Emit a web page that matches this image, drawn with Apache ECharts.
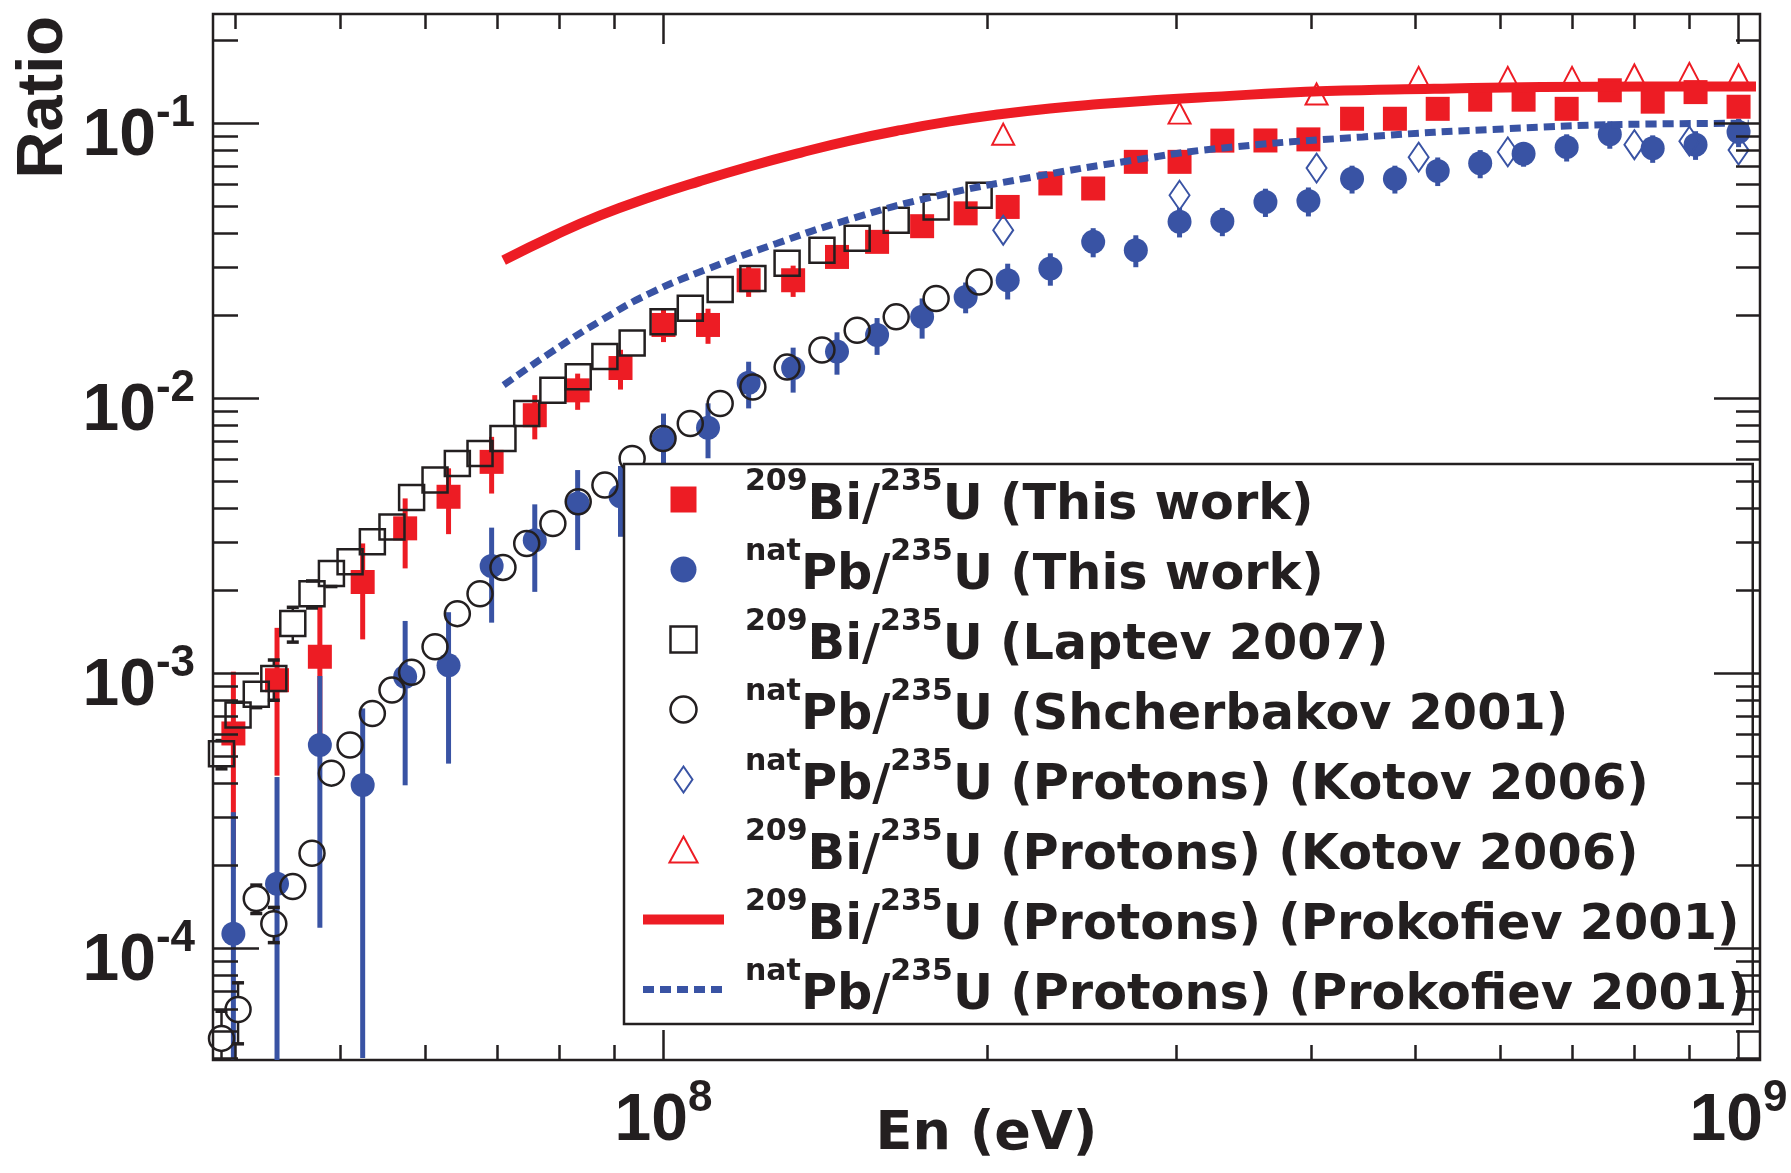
<!DOCTYPE html>
<html><head><meta charset="utf-8">
<script src="https://cdn.jsdelivr.net/npm/echarts@6/dist/echarts.min.js"></script>
<style>html,body{margin:0;padding:0;background:#fff}#c{width:1791px;height:1173px}</style>
</head><body><div id="c"></div>
<script>
// ---------------- data ----------------
const energyThisWork = [3.98e7, 4.37e7, 4.79e7, 5.25e7, 5.75e7, 6.31e7, 6.92e7, 7.59e7, 8.32e7, 9.12e7,
  1.00e8, 1.10e8, 1.20e8, 1.32e8, 1.45e8, 1.58e8, 1.74e8, 1.91e8, 2.09e8, 2.29e8,
  2.51e8, 2.75e8, 3.02e8, 3.31e8, 3.63e8, 3.98e8, 4.37e8, 4.79e8, 5.25e8, 5.75e8,
  6.31e8, 6.92e8, 7.59e8, 8.32e8, 9.12e8, 1.00e9];
const biThisWork = [6.05e-4, 9.45e-4, 1.15e-3, 2.15e-3, 3.37e-3, 4.39e-3, 5.88e-3, 8.69e-3, 1.07e-2, 1.29e-2,
  1.85e-2, 1.85e-2, 2.69e-2, 2.69e-2, 3.27e-2, 3.71e-2, 4.23e-2, 4.71e-2, 4.97e-2, 6.05e-2,
  5.80e-2, 7.25e-2, 7.25e-2, 8.66e-2, 8.67e-2, 8.75e-2, 0.104, 0.104, 0.113, 0.122,
  0.122, 0.113, 0.132, 0.120, 0.130, 0.115];
const biThisWorkErr = [4.1e-4, 5.2e-4, 6.0e-4, 8.2e-4, 9.6e-4, 1.18e-3, 1.37e-3, 1.59e-3, 1.61e-3, 2.13e-3,
  2.47e-3, 2.7e-3, 3.5e-3, 3.5e-3, 3.0e-3, 3.2e-3, 3.5e-3, 3.6e-3, 3.8e-3, 4.2e-3,
  4.2e-3, 4.8e-3, 4.8e-3, 5.2e-3, 5.2e-3, 5.3e-3, 5.8e-3, 5.8e-3, 6.2e-3, 6.5e-3,
  6.5e-3, 6.2e-3, 7.0e-3, 6.6e-3, 7.0e-3, 6.4e-3];
const pbThisWork = [1.13e-4, 1.72e-4, 5.49e-4, 3.93e-4, 9.72e-4, 1.07e-3, 2.46e-3, 3.05e-3, 4.15e-3, 4.41e-3,
  7.11e-3, 7.83e-3, 1.14e-2, 1.29e-2, 1.48e-2, 1.70e-2, 1.98e-2, 2.34e-2, 2.69e-2, 2.97e-2,
  3.71e-2, 3.46e-2, 4.39e-2, 4.41e-2, 5.18e-2, 5.22e-2, 6.29e-2, 6.29e-2, 6.72e-2, 7.16e-2,
  7.76e-2, 8.20e-2, 9.14e-2, 8.12e-2, 8.37e-2, 9.30e-2];
const pbThisWorkErr = [2.0e-4, 2.48e-4, 4.3e-4, 3.53e-4, 5.8e-4, 6.0e-4, 9.3e-4, 1.07e-3, 1.34e-3, 1.27e-3,
  1.7e-3, 1.77e-3, 2.2e-3, 2.4e-3, 2.6e-3, 2.6e-3, 3.3e-3, 3.0e-3, 4.0e-3, 4.0e-3,
  4.5e-3, 4.6e-3, 5.4e-3, 5.2e-3, 6.1e-3, 6.3e-3, 7.3e-3, 7.3e-3, 8.0e-3, 8.4e-3,
  8.0e-3, 9.3e-3, 1.05e-2, 9.3e-3, 1.0e-2, 1.1e-2];

const energyGatchina = [3.88e7, 4.02e7, 4.18e7, 4.34e7, 4.52e7, 4.71e7, 4.91e7, 5.11e7, 5.36e7, 5.59e7,
  5.83e7, 6.13e7, 6.43e7, 6.75e7, 7.09e7, 7.46e7, 7.89e7, 8.33e7, 8.82e7, 9.35e7,
  9.99e7, 1.059e8, 1.129e8, 1.211e8, 1.303e8, 1.404e8, 1.514e8, 1.646e8, 1.793e8, 1.966e8];
const biLaptev = [5.1e-4, 7.06e-4, 8.41e-4, 9.59e-4, 1.52e-3, 1.95e-3, 2.31e-3, 2.55e-3, 3.01e-3, 3.41e-3,
  4.36e-3, 5.05e-3, 5.80e-3, 6.31e-3, 7.15e-3, 8.82e-3, 1.07e-2, 1.20e-2, 1.42e-2, 1.59e-2,
  1.90e-2, 2.13e-2, 2.49e-2, 2.73e-2, 3.10e-2, 3.46e-2, 3.82e-2, 4.45e-2, 4.97e-2, 5.48e-2];
const biLaptevErr = [6e-5, 8e-5, 9e-5, 1.6e-4, 2.2e-4, 2.2e-4, 2.4e-4, 2.5e-4, 2.8e-4, 3.0e-4,
  3.5e-4, 4e-4, 4.5e-4, 4.8e-4, 5.3e-4, 6.3e-4, 7.5e-4, 8.4e-4, 9.8e-4, 1.1e-3,
  1.3e-3, 1.45e-3, 1.7e-3, 1.85e-3, 2.1e-3, 2.35e-3, 2.6e-3, 3.0e-3, 3.4e-3, 3.7e-3];
const pbShcherbakov = [4.71e-5, 6.0e-5, 1.52e-4, 1.23e-4, 1.68e-4, 2.22e-4, 4.34e-4, 5.49e-4, 7.15e-4, 8.70e-4,
  1.01e-3, 1.25e-3, 1.65e-3, 1.95e-3, 2.43e-3, 2.97e-3, 3.51e-3, 4.21e-3, 4.84e-3, 6.05e-3,
  7.15e-3, 8.11e-3, 9.59e-3, 1.10e-2, 1.30e-2, 1.50e-2, 1.77e-2, 1.98e-2, 2.31e-2, 2.65e-2];
const pbShcherbakovErr = [1.2e-5, 1.5e-5, 1.8e-5, 1.8e-5, 1.5e-5, 1.5e-5, 3e-5, 3.5e-5, 4e-5, 5e-5,
  6e-5, 7e-5, 9e-5, 1e-4, 1.2e-4, 1.5e-4, 1.8e-4, 2.1e-4, 2.4e-4, 3e-4,
  3.6e-4, 4e-4, 4.8e-4, 5.5e-4, 6.5e-4, 7.5e-4, 9e-4, 1e-3, 1.2e-3, 1.3e-3];

const energyKotovPb = [2.07e8, 3.02e8, 4.05e8, 5.04e8, 6.1e8, 8.0e8, 9.0e8, 1.0e9];
const pbKotov = [4.09e-2, 5.48e-2, 6.88e-2, 7.54e-2, 7.88e-2, 8.37e-2, 8.62e-2, 8.0e-2];
const energyKotovBi = [2.07e8, 3.02e8, 4.05e8, 5.04e8, 6.1e8, 7.0e8, 8.0e8, 9.0e8, 1.0e9];
const biKotov = [9.14e-2, 0.109, 0.128, 0.147, 0.147, 0.147, 0.150, 0.152, 0.150];

const energyProkBi = [7.10e7, 7.90e7, 8.73e7, 9.71e7, 1.081e8, 1.204e8, 1.34e8, 1.491e8, 1.66e8, 1.847e8,
  2.056e8, 2.288e8, 2.547e8, 2.835e8, 3.155e8, 4.14e8, 5.21e8, 6.55e8, 8.25e8, 1.038e9];
const biProkofiev = [0.0318, 0.0390, 0.0463, 0.0539, 0.0617, 0.0699, 0.0782, 0.0866, 0.0945, 0.1017,
  0.1080, 0.1134, 0.1176, 0.1212, 0.1243, 0.1311, 0.1337, 0.1357, 0.1361, 0.1361];
const energyProkPb = [7.10e7, 7.87e7, 8.76e7, 9.71e7, 1.097e8, 1.274e8, 1.481e8, 1.782e8, 2.208e8, 2.735e8,
  3.294e8, 4.47e8, 6.07e8, 8.25e8, 1.022e9];
const pbProkofiev = [1.118e-2, 1.477e-2, 1.927e-2, 2.41e-2, 2.95e-2, 3.66e-2, 4.45e-2, 5.41e-2, 6.39e-2, 7.35e-2,
  8.12e-2, 8.93e-2, 9.56e-2, 9.95e-2, 0.1001];

const seriesNames = [
  '209Bi/235U (This work)', 'natPb/235U (This work)', '209Bi/235U (Laptev 2007)',
  'natPb/235U (Shcherbakov 2001)', 'natPb/235U (Protons) (Kotov 2006)',
  '209Bi/235U (Protons) (Kotov 2006)', '209Bi/235U (Protons) (Prokofiev 2001)',
  'natPb/235U (Protons) (Prokofiev 2001)'];
const legendLabels = [
  '{p|209}{m|Bi/}{s|235}{m|U (This work)}',
  '{p|nat}{m|Pb/}{s|235}{m|U (This work)}',
  '{p|209}{m|Bi/}{s|235}{m|U (Laptev 2007)}',
  '{p|nat}{m|Pb/}{s|235}{m|U (Shcherbakov 2001)}',
  '{p|nat}{m|Pb/}{s|235}{m|U (Protons) (Kotov 2006)}',
  '{p|209}{m|Bi/}{s|235}{m|U (Protons) (Kotov 2006)}',
  '{p|209}{m|Bi/}{s|235}{m|U (Protons) (Prokofiev 2001)}',
  '{p|nat}{m|Pb/}{s|235}{m|U (Protons) (Prokofiev 2001)}'];

const xMajorTicks = [1e8, 1e9];
const xMinorTicks = [4e7, 5e7, 6e7, 7e7, 8e7, 9e7, 2e8, 3e8, 4e8, 5e8, 6e8, 7e8, 8e8, 9e8];
const yMajorTicks = [1e-4, 1e-3, 1e-2, 1e-1];
const yMinorTicks = [4e-5, 5e-5, 6e-5, 7e-5, 8e-5, 9e-5, 2e-4, 3e-4, 4e-4, 5e-4, 6e-4, 7e-4, 8e-4, 9e-4,
  2e-3, 3e-3, 4e-3, 5e-3, 6e-3, 7e-3, 8e-3, 9e-3, 2e-2, 3e-2, 4e-2, 5e-2, 6e-2, 7e-2, 8e-2, 9e-2, 2e-1];

// ---------------- styling ----------------
const INK = '#231f20', RED = '#ed1c24', BLUE = '#3953a4';
const TICK_FONT = '"Liberation Sans", Arial, sans-serif';
const LEG_FONT = '"DejaVu Sans", sans-serif';
const X_MIN = 3.81e7, X_MAX = 1.047e9, Y_MIN = 3.93e-5, Y_MAX = 0.25;
const RED_LINE = {color: RED, width: 10};
const BLUE_LINE = {color: BLUE, width: 7, type: [11, 6]};

const zip = (...cols) => cols[0].map((_, i) => cols.map(c => c[i]));

// all rich tokens top-aligned inside one line; padding-top sets each token's height on the line
const tickRich = {
  m: {fontFamily: TICK_FONT, fontWeight: 'bold', fontSize: 66, lineHeight: 92, padding: [26, 0, 0, 0], verticalAlign: 'top', color: INK},
  s: {fontFamily: TICK_FONT, fontWeight: 'bold', fontSize: 44, lineHeight: 92, padding: [14, 0, 0, 0], verticalAlign: 'top', color: INK}
};
const powLabel = v => '{m|10}{s|' + Math.round(Math.log10(v)) + '}';

function xAxisDef(pos, ticks, len, withLabels) {
  const ax = {
    type: 'log', logBase: 10, min: X_MIN, max: X_MAX, position: pos, z: 10,
    axisLine: {show: false}, splitLine: {show: false}, minorTick: {show: false},
    axisTick: {show: true, inside: true, length: len, customValues: ticks, lineStyle: {color: INK, width: 2.5}},
    axisLabel: {show: false}
  };
  if (withLabels) {
    ax.axisLabel = {show: true, customValues: ticks, margin: 3, verticalAlign: 'top', formatter: powLabel, rich: tickRich};
    ax.name = 'En (eV)';
    ax.nameLocation = 'middle';
    ax.nameGap = 48;
    ax.nameMoveOverlap = false;
    ax.nameTextStyle = {fontFamily: LEG_FONT, fontWeight: 'bold', fontSize: 54, color: INK};
  }
  return ax;
}
function yAxisDef(pos, ticks, len, withLabels) {
  const ax = {
    type: 'log', logBase: 10, min: Y_MIN, max: Y_MAX, position: pos, z: 10,
    axisLine: {show: false}, splitLine: {show: false}, minorTick: {show: false},
    axisTick: {show: true, inside: true, length: len, customValues: ticks, lineStyle: {color: INK, width: 2.5}},
    axisLabel: {show: false}
  };
  if (withLabels) {
    ax.axisLabel = {show: true, customValues: ticks, margin: 18, verticalAlign: 'middle', formatter: powLabel, rich: tickRich};
  }
  return ax;
}

function errorBars(color, width, halfMarker, cap) {
  return function (params, api) {
    const x = api.value(0), y = api.value(1), s = api.value(2);
    const c = api.coord([x, y]);
    const hi = api.coord([x, y + s]);
    const lo = api.coord([x, Math.max(y - s, 1e-12)]);
    const st = {stroke: color, lineWidth: width};
    const kids = [];
    if (c[1] - hi[1] > halfMarker) {
      kids.push({type: 'line', shape: {x1: c[0], y1: c[1] - halfMarker, x2: hi[0], y2: hi[1]}, style: st});
      if (cap) kids.push({type: 'line', shape: {x1: hi[0] - cap, y1: hi[1], x2: hi[0] + cap, y2: hi[1]}, style: {stroke: color, lineWidth: 3.5}});
    }
    if (lo[1] - c[1] > halfMarker) {
      kids.push({type: 'line', shape: {x1: c[0], y1: c[1] + halfMarker, x2: lo[0], y2: lo[1]}, style: st});
      if (cap) kids.push({type: 'line', shape: {x1: lo[0] - cap, y1: lo[1], x2: lo[0] + cap, y2: lo[1]}, style: {stroke: color, lineWidth: 3.5}});
    }
    return {type: 'group', children: kids};
  };
}
function errSeries(name, data, renderItem) {
  return {type: 'custom', name: name, data: data, renderItem: renderItem, clip: true, silent: true,
    dimensions: ['x', 'y', 'e'], encode: {x: 0, y: 1}};
}
const hollow = 'rgba(255,255,255,0)';
const clear = 'rgba(0,0,0,0)';

const chart = echarts.init(document.getElementById('c'), null, {renderer: 'canvas'});
chart.setOption({
  animation: false,
  backgroundColor: '#ffffff',
  grid: {left: 213, right: 31, top: 14, bottom: 113, containLabel: false, outerBoundsMode: 'none',
    show: true, borderColor: INK, borderWidth: 2.5, backgroundColor: 'transparent'},
  xAxis: [
    xAxisDef('bottom', xMajorTicks, 30, true),
    xAxisDef('bottom', xMinorTicks, 15, false),
    xAxisDef('top', xMajorTicks, 30, false),
    xAxisDef('top', xMinorTicks, 15, false)
  ],
  yAxis: [
    yAxisDef('left', yMajorTicks, 46, true),
    yAxisDef('left', yMinorTicks, 25, false),
    yAxisDef('right', yMajorTicks, 46, false),
    yAxisDef('right', yMinorTicks, 24, false)
  ],
  legend: {
    orient: 'vertical', left: 624, top: 464, itemWidth: 81, itemHeight: 26, itemGap: 0,
    padding: [0, 3, 0, 14], backgroundColor: '#ffffff', borderColor: INK, borderWidth: 2.5,
    selectedMode: false, z: 5, symbolKeepAspect: true,
    formatter: name => legendLabels[seriesNames.indexOf(name)],
    textStyle: {
      color: INK, fontFamily: LEG_FONT, fontWeight: 'bold', fontSize: 49.3,
      rich: {
        m: {fontFamily: LEG_FONT, fontWeight: 'bold', fontSize: 49.3, lineHeight: 71, padding: [18, 0, 3, 0], verticalAlign: 'top', color: INK},
        s: {fontFamily: LEG_FONT, fontWeight: 'bold', fontSize: 30, lineHeight: 71, padding: [3, 0, 0, 0], verticalAlign: 'top', color: INK},
        p: {fontFamily: LEG_FONT, fontWeight: 'bold', fontSize: 30, lineHeight: 71, padding: [3, 0, 0, 16], verticalAlign: 'top', color: INK}
      }
    },
    data: [
      {name: seriesNames[0], icon: 'path://M0,0H26V26H0Z', itemStyle: {color: RED, borderWidth: 0, opacity: 1}},
      {name: seriesNames[1], icon: 'circle', itemStyle: {color: BLUE, borderWidth: 0, opacity: 1}},
      {name: seriesNames[2], icon: 'path://M0,0H25V25H0Z', itemStyle: {color: hollow, borderColor: INK, borderWidth: 2.5, opacity: 1}},
      {name: seriesNames[3], icon: 'circle', itemStyle: {color: hollow, borderColor: INK, borderWidth: 2.5, opacity: 1}},
      {name: seriesNames[4], icon: 'path://M10,0L20,14.5L10,29L0,14.5Z', itemStyle: {color: hollow, borderColor: BLUE, borderWidth: 2, opacity: 1}},
      {name: seriesNames[5], icon: 'path://M13,0L26,24L0,24Z', itemStyle: {color: hollow, borderColor: RED, borderWidth: 2, opacity: 1}},
      {name: seriesNames[6], itemStyle: {color: clear, borderColor: clear, borderWidth: 0}, lineStyle: RED_LINE},
      {name: seriesNames[7], itemStyle: {color: clear, borderColor: clear, borderWidth: 0}, lineStyle: BLUE_LINE}
    ]
  },
  graphic: [{
    type: 'text', x: 44, y: 16, rotation: Math.PI / 2, z: 20,
    style: {text: 'Ratio', fontFamily: 'Liberation Sans', fontWeight: 'bold', fontSize: 65, fill: INK,
      textAlign: 'right', textVerticalAlign: 'middle', align: 'right', verticalAlign: 'middle'}
  }],
  series: [
    errSeries('bi-this-err', zip(energyThisWork, biThisWork, biThisWorkErr), errorBars(RED, 5, 0, 0)),
    {type: 'scatter', name: seriesNames[0], data: zip(energyThisWork, biThisWork), symbol: 'rect', symbolSize: 24,
      itemStyle: {color: RED, opacity: 1}},
    errSeries('pb-this-err', zip(energyThisWork, pbThisWork, pbThisWorkErr), errorBars(BLUE, 5, 0, 0)),
    {type: 'scatter', name: seriesNames[1], data: zip(energyThisWork, pbThisWork), symbol: 'circle', symbolSize: 24,
      itemStyle: {color: BLUE, opacity: 1}},
    errSeries('bi-laptev-err', zip(energyGatchina, biLaptev, biLaptevErr), errorBars(INK, 2.5, 12.5, 6)),
    {type: 'scatter', name: seriesNames[2], data: zip(energyGatchina, biLaptev), symbol: 'rect', symbolSize: 25,
      itemStyle: {color: hollow, borderColor: INK, borderWidth: 2.5, opacity: 1}},
    errSeries('pb-shch-err', zip(energyGatchina, pbShcherbakov, pbShcherbakovErr), errorBars(INK, 2.5, 12.5, 6)),
    {type: 'scatter', name: seriesNames[3], data: zip(energyGatchina, pbShcherbakov), symbol: 'circle', symbolSize: 25,
      itemStyle: {color: hollow, borderColor: INK, borderWidth: 2.5, opacity: 1}},
    {type: 'scatter', name: seriesNames[4], data: zip(energyKotovPb, pbKotov), symbol: 'diamond', symbolSize: [20, 29],
      itemStyle: {color: hollow, borderColor: BLUE, borderWidth: 2, opacity: 1}},
    {type: 'scatter', name: seriesNames[5], data: zip(energyKotovBi, biKotov), symbol: 'triangle', symbolSize: [22, 21],
      itemStyle: {color: hollow, borderColor: RED, borderWidth: 2, opacity: 1}},
    {type: 'line', name: seriesNames[6], data: zip(energyProkBi, biProkofiev), symbol: 'none', showSymbol: false,
      smooth: 0.5, lineStyle: RED_LINE, itemStyle: {color: RED}},
    {type: 'line', name: seriesNames[7], data: zip(energyProkPb, pbProkofiev), symbol: 'none', showSymbol: false,
      smooth: 0.5, lineStyle: BLUE_LINE, itemStyle: {color: BLUE}}
  ]
});
</script>
</body></html>
